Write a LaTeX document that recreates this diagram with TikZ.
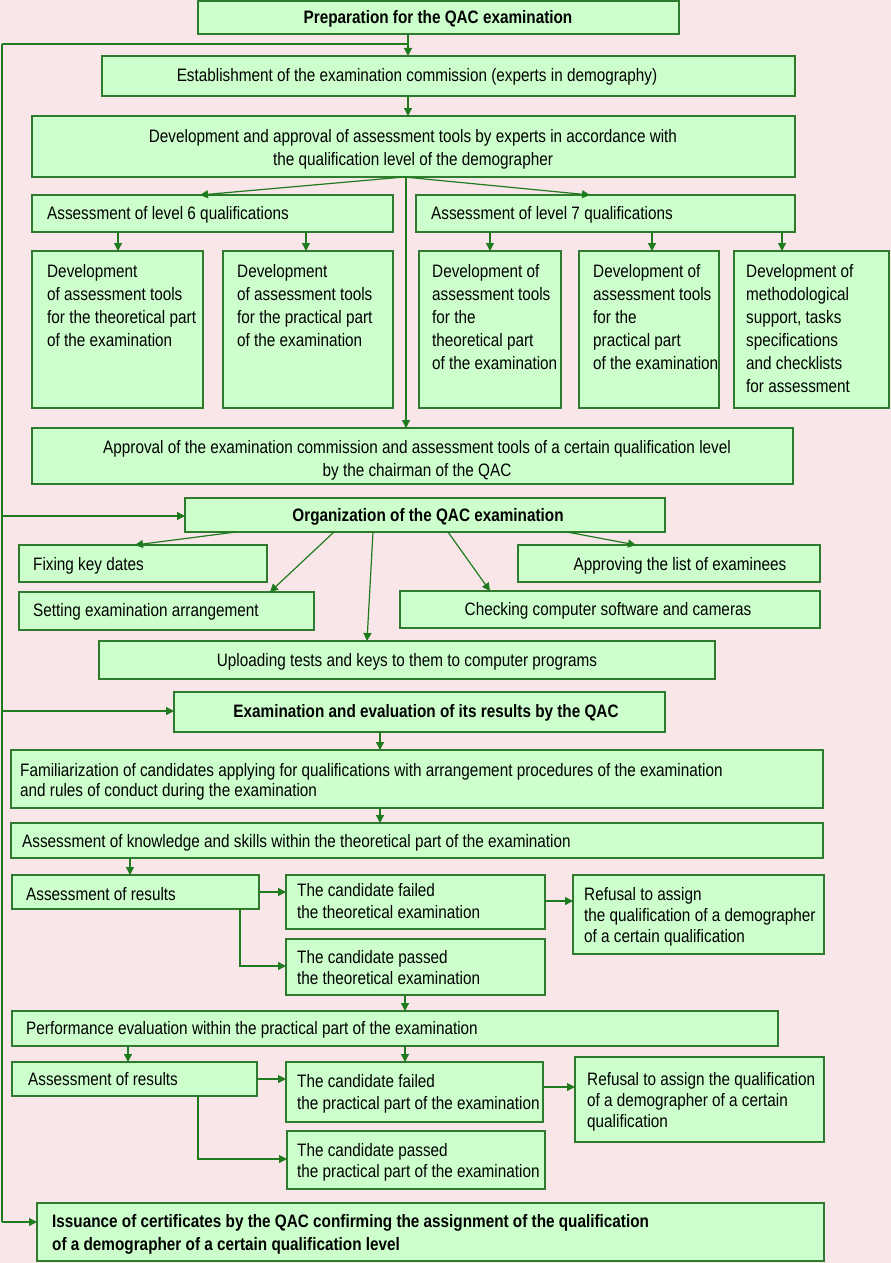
\documentclass[tikz,border=0pt]{standalone}
\usepackage{fontspec}
\setmainfont{Liberation Sans}[FakeStretch=0.85]
\usetikzlibrary{arrows.meta}
\definecolor{bgc}{HTML}{F9E6E8}
\definecolor{boxc}{HTML}{CCFFCC}
\definecolor{bordc}{HTML}{2E7A2E}
\definecolor{linec}{HTML}{1E7B1E}
\newcommand\Bx[5]{\node[bx, minimum width={(#4-#2)*1pt}, minimum height={(#5-#3)*1pt}] (#1) at ({(#2+#4)/2},{(#3+#5)/2}) {};}
\begin{document}
\begin{tikzpicture}[x=1pt,y=-1pt,
  bx/.style={draw=bordc, fill=boxc, line width=1.4pt, inner sep=0pt, outer sep=0pt},
  tx/.style={inner sep=0pt, yshift=-2pt, font=\fontsize{18}{23}\selectfont, align=left},
  txc/.style={inner sep=0pt, yshift=-2pt, font=\fontsize{18}{23}\selectfont, align=center},
  txb/.style={inner sep=0pt, yshift=-2pt, font=\fontsize{18}{23}\selectfont\bfseries, align=left},
  arr/.style={draw=linec, line width=1.2pt, -{Triangle[length=8pt,width=8pt]}},
  ln/.style={draw=linec, line width=1.2pt}]
\fill[bgc] (0,0) rectangle (891,1263);
\useasboundingbox (0,0) rectangle (891,1263);
% boxes
\Bx{prep}{198}{1}{679}{34}
\Bx{estab}{102}{56}{795}{96}
\Bx{dev}{32}{116}{795}{177}
\Bx{lsix}{32}{195}{393}{232}
\Bx{lseven}{416}{195}{795}{232}
\Bx{da}{32}{251}{203}{408}
\Bx{db}{223}{251}{393}{408}
\Bx{dc}{419}{251}{561}{408}
\Bx{dd}{579}{251}{719}{408}
\Bx{de}{734}{251}{889}{408}
\Bx{appr}{32}{428}{793}{484}
\Bx{org}{185}{498}{665}{532}
\Bx{fix}{19}{545}{267}{582}
\Bx{set}{19}{592}{314}{630}
\Bx{aplist}{518}{545}{820}{582}
\Bx{check}{400}{591}{820}{628}
\Bx{upl}{99}{641}{715}{679}
\Bx{exam}{174}{692}{665}{732}
\Bx{fam}{11}{750}{823}{808}
\Bx{ath}{11}{823}{823}{858}
\Bx{resA}{12}{875}{259}{909}
\Bx{failA}{286}{875}{545}{929}
\Bx{refA}{573}{875}{824}{954}
\Bx{passA}{286}{939}{545}{995}
\Bx{perf}{12}{1011}{778}{1046}
\Bx{resB}{12}{1062}{257}{1096}
\Bx{failB}{286}{1062}{543}{1122}
\Bx{refB}{575}{1057}{824}{1142}
\Bx{passB}{287}{1131}{545}{1189}
\Bx{iss}{37}{1203}{824}{1261}
% texts
\node[txb] (prep-t) at (438,17) {Preparation for the QAC examination};
\node[txc] (estab-t) at (417,75) {Establishment of the examination commission (experts in demography)};
\node[txc, anchor=north] (dev-t) at (413,127) {Development and approval of assessment tools by experts in accordance with\\the qualification level of the demographer};
\node[tx, anchor=west] (lsix-t) at (47,213) {Assessment of level 6 qualifications};
\node[tx, anchor=west] (lseven-t) at (431,213) {Assessment of level 7 qualifications};
\node[tx, anchor=north west] (da-t) at (47,262) {Development\\of assessment tools\\for the theoretical part\\of the examination};
\node[tx, anchor=north west] (db-t) at (237,262) {Development\\of assessment tools\\for the practical part\\of the examination};
\node[tx, anchor=north west] (dc-t) at (432,262) {Development of\\assessment tools\\for the\\theoretical part\\of the examination};
\node[tx, anchor=north west] (dd-t) at (593,262) {Development of\\assessment tools\\for the\\practical part\\of the examination};
\node[tx, anchor=north west] (de-t) at (746,262) {Development of\\methodological\\support, tasks\\specifications\\and checklists\\for assessment};
\node[txc, anchor=north] (appr-t) at (417,438) {Approval of the examination commission and assessment tools of a certain qualification level\\by the chairman of the QAC};
\node[txb] (org-t) at (428,515) {Organization of the QAC examination};
\node[tx, anchor=west] (fix-t) at (33,564) {Fixing key dates};
\node[tx, anchor=west] (set-t) at (33,610) {Setting examination arrangement};
\node[txc] (aplist-t) at (680,564) {Approving the list of examinees};
\node[txc] (check-t) at (608,609) {Checking computer software and cameras};
\node[txc] (upl-t) at (407,660) {Uploading tests and keys to them to computer programs};
\node[txb] (exam-t) at (426,711) {Examination and evaluation of its results by the QAC};
\node[tx, anchor=north west, font=\fontsize{18}{20}\selectfont] (fam-t) at (20,761) {Familiarization of candidates applying for qualifications with arrangement procedures of the examination\\and rules of conduct during the examination};
\node[tx, anchor=west] (ath-t) at (22,841) {Assessment of knowledge and skills within the theoretical part of the examination};
\node[tx, anchor=west] (resA-t) at (26,892) {Assessment of results};
\node[tx, anchor=north west, font=\fontsize{18}{22}\selectfont] (failA-t) at (297,881) {The candidate failed\\the theoretical examination};
\node[tx, anchor=north west, font=\fontsize{18}{21}\selectfont] (refA-t) at (584,885) {Refusal to assign\\the qualification of a demographer\\of a certain qualification};
\node[tx, anchor=north west, font=\fontsize{18}{21}\selectfont] (passA-t) at (297,948) {The candidate passed\\the theoretical examination};
\node[tx, anchor=west] (perf-t) at (26,1028) {Performance evaluation within the practical part of the examination};
\node[tx, anchor=west] (resB-t) at (28,1077) {Assessment of results};
\node[tx, anchor=north west, font=\fontsize{18}{22}\selectfont] (failB-t) at (297,1072) {The candidate failed\\the practical part of the examination};
\node[tx, anchor=north west, font=\fontsize{18}{21}\selectfont] (refB-t) at (587,1070) {Refusal to assign the qualification\\of a demographer of a certain\\qualification};
\node[tx, anchor=north west, font=\fontsize{18}{21}\selectfont] (passB-t) at (297,1141) {The candidate passed\\the practical part of the examination};
\node[txb, anchor=north west] (iss-t) at (52,1212) {Issuance of certificates by the QAC confirming the assignment of the qualification\\of a demographer of a certain qualification level};
% connectors
\coordinate (fbtop) at (2,44);
\coordinate (fbbot) at (2,1222);
\draw[arr] (prep.south -| 408,0) -- (estab.north -| 408,0);
\draw[ln] (fbtop) -- (408,44);
\draw[ln] (fbtop) -- (fbbot);
\draw[arr] (fbbot) -- (iss.west |- fbbot);
\draw[arr] (2,516) -- (org.west |- 0,516);
\draw[arr] (2,711) -- (exam.west |- 0,711);
\draw[arr] (estab.south -| 408,0) -- (dev.north -| 408,0);
\draw[arr] (dev.south -| 404,0) -- (lsix.north -| 200,0);
\draw[arr] (dev.south -| 404,0) -- (lseven.north -| 590,0);
\draw[arr] (dev.south -| 406,0) -- (appr.north -| 406,0);
\draw[arr] (lsix.south -| 118,0) -- (da.north -| 118,0);
\draw[arr] (lsix.south -| 306,0) -- (db.north -| 306,0);
\draw[arr] (lseven.south -| 490,0) -- (dc.north -| 490,0);
\draw[arr] (lseven.south -| 652,0) -- (dd.north -| 652,0);
\draw[arr] (lseven.south -| 782,0) -- (de.north -| 782,0);
\draw[arr] (org.south -| 236,0) -- (fix.north -| 135,0);
\draw[arr] (org.south -| 334,0) -- (set.north -| 270,0);
\draw[arr] (org.south -| 373,0) -- (upl.north -| 367,0);
\draw[arr] (org.south -| 448,0) -- (check.north -| 490,0);
\draw[arr] (org.south -| 567,0) -- (aplist.north -| 636,0);
\draw[arr] (exam.south -| 380,0) -- (fam.north -| 380,0);
\draw[arr] (fam.south -| 380,0) -- (ath.north -| 380,0);
\draw[arr] (ath.south -| 130,0) -- (resA.north -| 130,0);
\draw[arr] (resA.east |- 0,892) -- (failA.west |- 0,892);
\draw[arr] (resA.south -| 240,0) |- (passA.west |- 0,966);
\draw[arr] (failA.east |- 0,901) -- (refA.west |- 0,901);
\draw[arr] (passA.south -| 405,0) -- (perf.north -| 405,0);
\draw[arr] (perf.south -| 128,0) -- (resB.north -| 128,0);
\draw[arr] (perf.south -| 405,0) -- (failB.north -| 405,0);
\draw[arr] (resB.east |- 0,1079) -- (failB.west |- 0,1079);
\draw[arr] (resB.south -| 198,0) |- (passB.west |- 0,1159);
\draw[arr] (failB.east |- 0,1087) -- (refB.west |- 0,1087);
\end{tikzpicture}
\end{document}
